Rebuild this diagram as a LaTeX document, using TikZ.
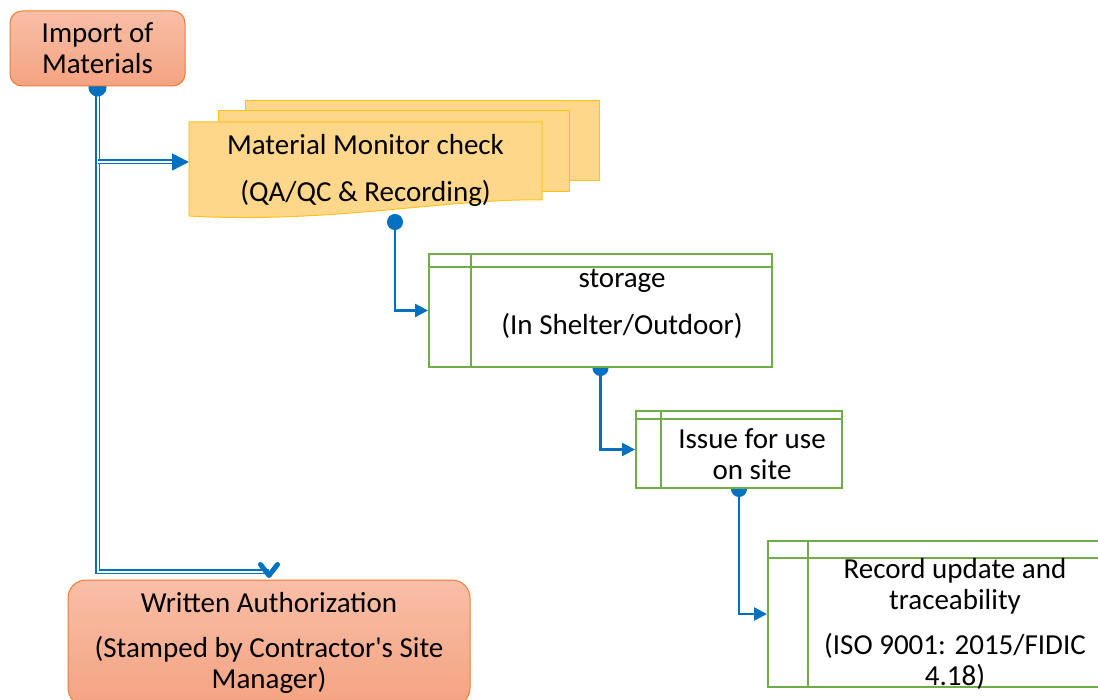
\documentclass[tikz,border=0pt]{standalone}
\usepackage{fontspec}
\setmainfont{Carlito}
\usetikzlibrary{arrows.meta, backgrounds, calc}
\definecolor{flowblue}{HTML}{0070C0}
\definecolor{edgeorange}{HTML}{ED7D31}
\definecolor{salmontop}{HTML}{F8BEA7}
\definecolor{salmonbot}{HTML}{F4A381}
\definecolor{docfill}{HTML}{FFD78A}
\definecolor{docedge}{HTML}{FFC21A}
\definecolor{procgreen}{HTML}{70AD47}

\begin{document}
\begin{tikzpicture}[x=1pt,y=-1pt,font=\fontsize{29}{31}\selectfont,
    terminal/.style={draw=edgeorange,line width=1pt,rounded corners=12pt,
      top color=salmontop,bottom color=salmonbot,align=center,inner sep=0pt},
    doc/.style={draw=docedge,line width=1pt,fill=docfill},
    proc/.style={draw=procgreen,line width=2pt,fill=white,inner sep=0pt},
    procline/.style={draw=procgreen,line width=2pt},
    flow/.style={draw=flowblue,line width=2.5pt},
    dbl/.style={draw=flowblue,line width=1.5pt,double=white,double distance=2pt},
    dotstart/.style={shorten <=-8pt},
    >={Triangle[length=13pt,width=13pt]}]
  \path[use as bounding box] (0,0) rectangle (1098,700);

  % start and end
  \node[terminal,minimum width=175pt,minimum height=75pt] (imp) at (97.5,48.5) {Import of\\Materials};
  \node[terminal,rounded corners=18pt,minimum width=402pt,minimum height=126pt] (wa) at (269,643)
    {Written Authorization\\[14pt](Stamped by Contractor\textquotesingle s Site\\Manager)};

  % stack of documents
  \draw[doc] (245,101) rectangle (599,181);
  \draw[doc] (218,111) rectangle (569,192);
  \draw[doc] (189,122) -- (542,122) -- (542,200) .. controls (450,198) and (330,224) .. (189,216) -- cycle;
  \node[align=center] (mmc) at (365.5,170) {Material Monitor check\\[16pt](QA/QC \& Recording)};
  \coordinate (mmcin) at (189,162);
  \coordinate (mmcout) at (395,222);

  % process boxes
  \node[proc,minimum width=343pt,minimum height=113pt] (st) at (600.5,310.5) {};
  \draw[procline] ([yshift=-14pt]st.north west) -- ([yshift=-14pt]st.north east)
    ([xshift=43pt]st.north west) -- ([xshift=43pt]st.south west);
  \node[align=center] (sttext) at (622,304) {storage\\[16pt](In Shelter/Outdoor)};

  \node[proc,minimum width=206pt,minimum height=77pt] (iss) at (739,449.5) {};
  \draw[procline] ([yshift=-9pt]iss.north west) -- ([yshift=-9pt]iss.north east)
    ([xshift=26pt]iss.north west) -- ([xshift=26pt]iss.south west);
  \node[align=center] (isstext) at (752,454) {Issue for use\\on site};

  \node[proc,minimum width=332pt,minimum height=146pt] (rec) at (934,614) {};
  \draw[procline] ([yshift=-18pt]rec.north west) -- ([yshift=-18pt]rec.north east)
    ([xshift=41pt]rec.north west) -- ([xshift=41pt]rec.south west);
  \node[align=center] (rectext) at (955,624)
    {Record update and\\traceability\\[14pt](ISO 9001: 2015/FIDIC\\4.18)};

  % connectors
  \begin{scope}[on background layer]
    \coordinate (wain) at ($(wa.north)+(0,-8)$);
    \draw[dbl] (imp.south) |- (wain);
    \draw[flow,dotstart,{Circle[length=18pt]}-] (imp.south) -- ++(0,10);
    \draw[dbl,-{Triangle[length=17pt,width=17pt]}] (imp.south |- mmcin) -- (mmcin);
    \draw[flow,dotstart,{Circle[length=16pt]}->] (mmcout) |- (st.west);
    \draw[flow,dotstart,{Circle[length=16pt]}->] (st.south) |- (iss.west);
    \draw[flow,dotstart,{Circle[length=16pt]}->] (iss.south) |- (rec.west);
  \end{scope}
  % head of the double connector
  \draw[flow,line width=5pt,line cap=round,line join=round]
    ([xshift=-8.5pt,yshift=15pt]wa.north) -- ([yshift=4pt]wa.north) -- ([xshift=8.5pt,yshift=15pt]wa.north);
\end{tikzpicture}
\end{document}
